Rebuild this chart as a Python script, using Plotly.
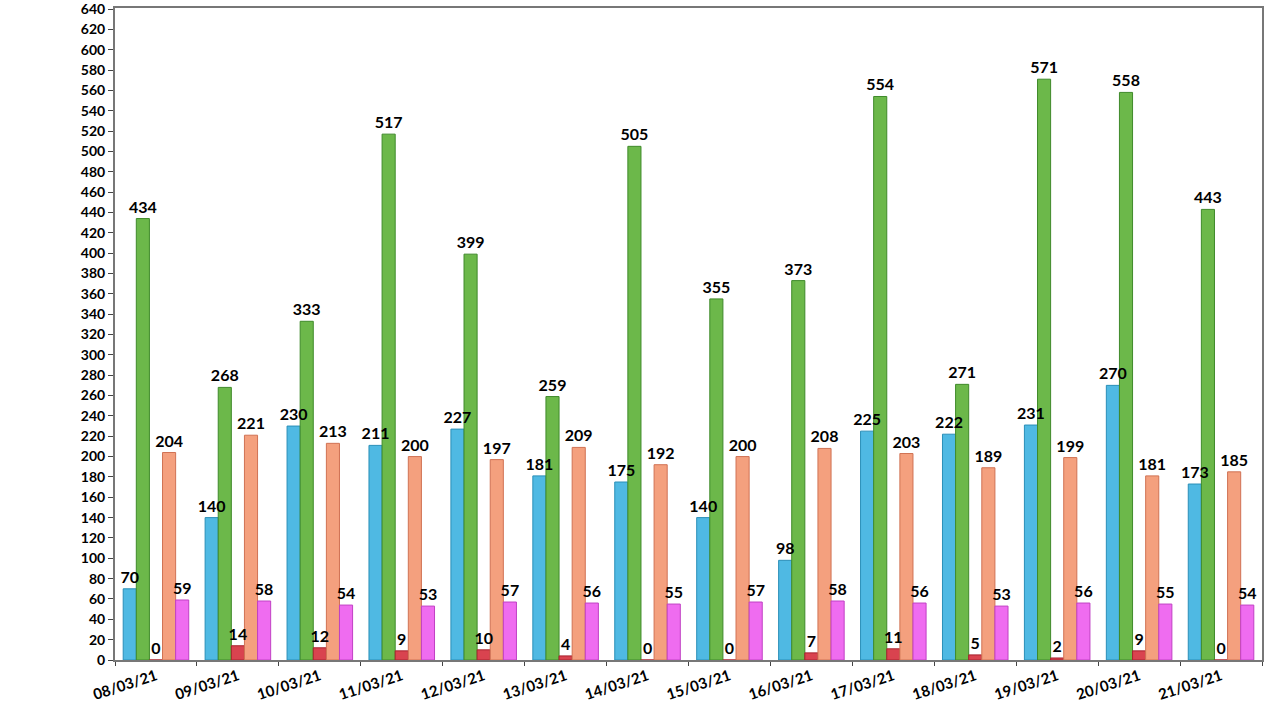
import plotly.graph_objects as go

dates = ["08/03/21", "09/03/21", "10/03/21", "11/03/21", "12/03/21", "13/03/21", "14/03/21",
         "15/03/21", "16/03/21", "17/03/21", "18/03/21", "19/03/21", "20/03/21", "21/03/21"]
blue_vals = [70, 140, 230, 211, 227, 181, 175, 140, 98, 225, 222, 231, 270, 173]
green_vals = [434, 268, 333, 517, 399, 259, 505, 355, 373, 554, 271, 571, 558, 443]
red_vals = [0, 14, 12, 9, 10, 4, 0, 0, 7, 11, 5, 2, 9, 0]
orange_vals = [204, 221, 213, 200, 197, 209, 192, 200, 208, 203, 189, 199, 181, 185]
magenta_vals = [59, 58, 54, 53, 57, 56, 55, 57, 58, 56, 53, 56, 55, 54]

series = [
    ("blue", blue_vals, "#4fb9e3", "#2a8fb8"),
    ("green", green_vals, "#6cb84a", "#3f8a2a"),
    ("red", red_vals, "#d9434f", "#a8222e"),
    ("orange", orange_vals, "#f4a07e", "#d07254"),
    ("magenta", magenta_vals, "#ef6cf0", "#c040c4"),
]

FONT = "Comic Sans MS, Lato, Noto Sans, sans-serif"

fig = go.Figure()
# coloured bars
for name, vals, col, edge in series:
    fig.add_trace(go.Bar(
        x=dates, y=vals, name=name, offsetgroup=name,
        marker=dict(color=col, line=dict(color=edge, width=1)),
        hoverinfo="skip",
    ))
# transparent bars carrying the value labels, drawn on top
for name, vals, col, edge in series:
    fig.add_trace(go.Bar(
        x=dates, y=vals, name=name + " labels", offsetgroup=name,
        marker=dict(color="rgba(0,0,0,0)", line=dict(width=0)),
        text=[str(v) for v in vals], textposition="outside",
        constraintext="none",
        textfont=dict(family=FONT, size=16, color="black", weight="bold"),
        cliponaxis=False,
    ))

fig.update_layout(
    width=1280, height=720,
    margin=dict(l=115, r=18, t=8, b=60),
    paper_bgcolor="white", plot_bgcolor="white",
    barmode="group", bargap=0.2, bargroupgap=0,
    showlegend=False,
    font=dict(family=FONT, color="black"),
)
fig.update_xaxes(
    type="category", tickson="boundaries", ticks="outside", ticklen=4,
    tickangle=-18, tickfont=dict(family=FONT, size=15, color="black", weight="bold"),
    showline=True, linecolor="#777777", linewidth=2, mirror=True,
    showgrid=False, automargin=False,
)
fig.update_yaxes(
    range=[0, 641], tick0=0, dtick=20, ticks="outside", ticklen=5,
    ticklabeloverflow="allow", automargin=False,
    tickfont=dict(family=FONT, size=14, color="black", weight="bold"),
    showline=True, linecolor="#777777", linewidth=2, mirror=True,
    showgrid=False, zeroline=False,
)

fig.write_html("out.html")
